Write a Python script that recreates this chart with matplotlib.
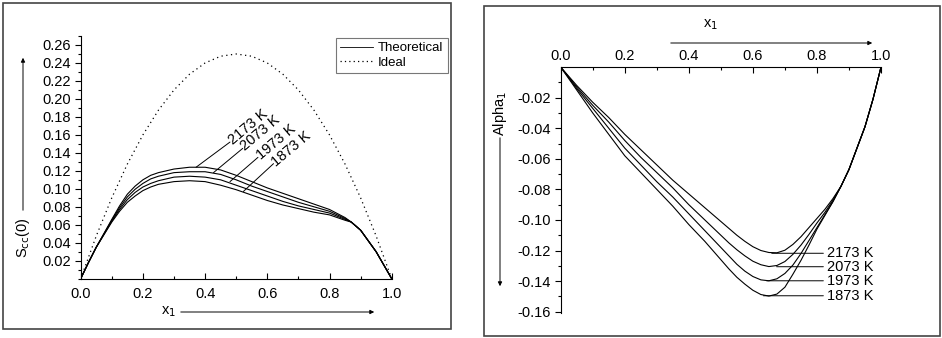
import matplotlib
matplotlib.use("Agg")
import matplotlib.pyplot as plt
from matplotlib.patches import Rectangle, FancyArrowPatch
from matplotlib.ticker import MultipleLocator, FixedLocator

plt.rcParams['font.family'] = ['Liberation Sans', 'DejaVu Sans']
plt.rcParams['axes.unicode_minus'] = False

# ---------------- data: left panel (Scc(0)) ----------------
x_left = [0.0, 0.025, 0.05, 0.1, 0.125, 0.15, 0.175, 0.2, 0.225, 0.25, 0.3, 0.35, 0.4, 0.45,
          0.5, 0.55, 0.6, 0.65, 0.7, 0.75, 0.8, 0.85, 0.87, 0.9, 0.95, 0.975, 1.0]
scc_2173 = [0.0, 0.018, 0.035, 0.066, 0.081, 0.094, 0.103, 0.110, 0.115, 0.118, 0.122, 0.124,
            0.124, 0.121, 0.115, 0.108, 0.101, 0.095, 0.089, 0.083, 0.077, 0.068, 0.063,
            0.054, 0.030, 0.015, 0.0]
scc_2073 = [0.0, 0.018, 0.035, 0.065, 0.079, 0.091, 0.0995, 0.106, 0.111, 0.114, 0.118, 0.119,
            0.119, 0.116, 0.110, 0.103, 0.097, 0.091, 0.085, 0.080, 0.075, 0.067, 0.063,
            0.054, 0.030, 0.015, 0.0]
scc_1973 = [0.0, 0.018, 0.035, 0.064, 0.077, 0.088, 0.096, 0.102, 0.106, 0.109, 0.113, 0.114,
            0.113, 0.110, 0.104, 0.098, 0.092, 0.086, 0.081, 0.077, 0.073, 0.066, 0.063,
            0.054, 0.030, 0.015, 0.0]
scc_1873 = [0.0, 0.018, 0.035, 0.063, 0.075, 0.085, 0.092, 0.098, 0.102, 0.105, 0.108, 0.109,
            0.108, 0.104, 0.099, 0.093, 0.087, 0.082, 0.078, 0.074, 0.071, 0.065, 0.063,
            0.054, 0.030, 0.015, 0.0]
x_ideal = [0.0, 0.05, 0.1, 0.15, 0.2, 0.25, 0.3, 0.35, 0.4, 0.45, 0.5, 0.55, 0.6, 0.65,
           0.7, 0.75, 0.8, 0.85, 0.9, 0.95, 1.0]
scc_ideal = [0.0, 0.0475, 0.09, 0.1275, 0.16, 0.1875, 0.21, 0.2275, 0.24, 0.2475, 0.25, 0.2475,
             0.24, 0.2275, 0.21, 0.1875, 0.16, 0.1275, 0.09, 0.0475, 0.0]

# ---------------- data: right panel (Alpha1) ----------------
x_right = [0.0, 0.05, 0.1, 0.15, 0.2, 0.25, 0.3, 0.35, 0.4, 0.45, 0.5, 0.525, 0.55, 0.575,
           0.6, 0.625, 0.65, 0.675, 0.7, 0.725, 0.75, 0.775, 0.8, 0.825, 0.85, 0.875,
           0.9, 0.925, 0.95, 0.975, 1.0]
alpha_2173 = [0.0, -0.012, -0.023, -0.033, -0.044, -0.054, -0.064, -0.074, -0.083, -0.092,
              -0.101, -0.1055, -0.110, -0.114, -0.1175, -0.120, -0.1213, -0.1215, -0.1198,
              -0.116, -0.111, -0.105, -0.099, -0.093, -0.086, -0.078, -0.067, -0.053,
              -0.039, -0.021, 0.0]
alpha_2073 = [0.0, -0.013, -0.025, -0.036, -0.048, -0.059, -0.069, -0.079, -0.090, -0.100,
              -0.110, -0.115, -0.1195, -0.1235, -0.127, -0.1293, -0.1305, -0.1298, -0.1272,
              -0.1225, -0.1165, -0.1095, -0.102, -0.095, -0.087, -0.078, -0.067, -0.053,
              -0.039, -0.021, 0.0]
alpha_1973 = [0.0, -0.014, -0.027, -0.040, -0.053, -0.064, -0.075, -0.085, -0.096, -0.107,
              -0.118, -0.1235, -0.129, -0.1335, -0.137, -0.1392, -0.1398, -0.1385, -0.135,
              -0.1295, -0.122, -0.1135, -0.105, -0.0965, -0.088, -0.078, -0.067, -0.053,
              -0.039, -0.021, 0.0]
alpha_1873 = [0.0, -0.015, -0.030, -0.044, -0.058, -0.069, -0.080, -0.091, -0.103, -0.114,
              -0.126, -0.132, -0.1375, -0.142, -0.146, -0.1488, -0.1498, -0.1485, -0.1440,
              -0.1355, -0.1265, -0.1165, -0.106, -0.097, -0.088, -0.078, -0.067, -0.053,
              -0.039, -0.021, 0.0]

temps = ['2173 K', '2073 K', '1973 K', '1873 K']
left_series = [scc_2173, scc_2073, scc_1973, scc_1873]
right_series = [alpha_2173, alpha_2073, alpha_1973, alpha_1873]

# annotation geometry (label placement)
left_ptr = [(0.371, 0.124), (0.427, 0.118), (0.48, 0.108), (0.523, 0.097)]
left_txt = [(0.48, 0.152), (0.521, 0.145), (0.57, 0.135), (0.62, 0.128)]
right_ptr = [(0.659, -0.1218), (0.674, -0.1306), (0.643, -0.1398), (0.633, -0.1496)]
right_end = 0.82
right_txt_x = 0.83

W, H = 942, 338
fig = plt.figure(figsize=(W / 100, H / 100), dpi=100)

def fx(px):
    return px / W

def fy(py):
    return 1 - py / H

def arrow(p0, p1):
    fig.patches.append(FancyArrowPatch((fx(p0[0]), fy(p0[1])), (fx(p1[0]), fy(p1[1])),
                       transform=fig.transFigure, arrowstyle='-|>', mutation_scale=6,
                       lw=0.7, color='black'))

# panel frames
for (x0, y0, x1, y1) in [(3, 3, 451, 329), (484, 6, 940, 336)]:
    fig.patches.append(Rectangle((fx(x0), fy(y1)), fx(x1 - x0), (y1 - y0) / H,
                                 transform=fig.transFigure, fill=False,
                                 edgecolor='#444444', lw=1.2))

FS = 10.5
LW = 0.8

# ---------------- left axes ----------------
axL = fig.add_axes([fx(80.7), fy(278.7), fx(391.7 - 80.7), (278.7 - 36) / H])
for s in left_series:
    axL.plot(x_left, s, color='black', lw=LW)
axL.plot(x_ideal, scc_ideal, color='black', lw=0.9, linestyle=(0, (1, 2.8)))
axL.set_xlim(0, 1.0)
axL.set_ylim(0, 0.27)
axL.spines['top'].set_visible(False)
axL.spines['right'].set_visible(False)
axL.xaxis.set_major_locator(MultipleLocator(0.2))
axL.xaxis.set_minor_locator(MultipleLocator(0.1))
axL.yaxis.set_major_locator(FixedLocator([0.02 * i for i in range(1, 14)]))
axL.yaxis.set_minor_locator(MultipleLocator(0.01))
axL.xaxis.set_major_formatter(plt.FuncFormatter(lambda v, p: f"{v:.1f}"))
axL.yaxis.set_major_formatter(plt.FuncFormatter(lambda v, p: f"{v:.2f}"))
axL.tick_params(axis='x', which='major', direction='in', length=4, width=0.8, labelsize=FS, pad=6)
axL.tick_params(axis='x', which='minor', direction='in', length=2, width=0.8)
axL.tick_params(axis='y', which='major', direction='out', length=4, width=0.8, labelsize=FS, pad=3)
axL.tick_params(axis='y', which='minor', direction='out', length=2, width=0.8)

for (p, q, t) in zip(left_ptr, left_txt, temps):
    axL.annotate('', xy=p, xytext=q, arrowprops=dict(arrowstyle='-', lw=0.7, color='black',
                                                   shrinkA=0, shrinkB=0))
    axL.text(q[0], q[1], t, rotation=40, rotation_mode='anchor', ha='left', va='center',
             fontsize=FS)

leg_handles = [plt.Line2D([], [], color='black', lw=0.6),
               plt.Line2D([], [], color='black', lw=0.9, linestyle=(0, (1, 2.5)))]
leg = fig.legend(leg_handles, ['Theoretical', 'Ideal'], loc='upper left',
                 bbox_to_anchor=(fx(336), fy(38)), fontsize=9.5, frameon=True, fancybox=False,
                 handlelength=2.5, borderpad=0.3, labelspacing=0.2, handletextpad=0.4,
                 borderaxespad=0)
leg.get_frame().set_edgecolor('#555555')
leg.get_frame().set_linewidth(0.8)

fig.text(fx(23), fy(238), r'S$_{\mathrm{cc}}$(0)', rotation=90, ha='center', va='center', fontsize=FS)
arrow((23, 213), (23, 55))
fig.text(fx(168), fy(312), r'x$_1$', ha='center', va='center', fontsize=FS)
arrow((178, 312), (377, 312))

# ---------------- right axes ----------------
ybot = -0.161
py_bot = 67.1 + 0.161 * 1528.5
axR = fig.add_axes([fx(560.7), fy(py_bot), fx(881 - 560.7), (py_bot - 67.1) / H])
for s in right_series:
    axR.plot(x_right, s, color='black', lw=LW)
axR.set_xlim(0, 1.0)
axR.set_ylim(ybot, 0)
axR.spines['bottom'].set_visible(False)
axR.spines['right'].set_visible(False)
axR.xaxis.tick_top()
axR.xaxis.set_major_locator(MultipleLocator(0.2))
axR.xaxis.set_minor_locator(MultipleLocator(0.1))
axR.yaxis.set_major_locator(FixedLocator([-0.02 * i for i in range(1, 9)]))
axR.yaxis.set_minor_locator(FixedLocator([-0.01 - 0.02 * i for i in range(0, 8)]))
axR.xaxis.set_major_formatter(plt.FuncFormatter(lambda v, p: f"{v:.1f}"))
axR.yaxis.set_major_formatter(plt.FuncFormatter(lambda v, p: f"{v:.2f}"))
axR.tick_params(axis='x', which='major', direction='in', length=4, width=0.8, labelsize=FS, pad=3,
                top=True, bottom=False)
axR.tick_params(axis='x', which='minor', direction='in', length=2, width=0.8, top=True, bottom=False)
axR.tick_params(axis='y', which='major', direction='out', length=4, width=0.8, labelsize=FS, pad=3)
axR.tick_params(axis='y', which='minor', direction='out', length=2, width=0.8)

for (p, t) in zip(right_ptr, temps):
    axR.annotate('', xy=p, xytext=(right_end, p[1]),
                 arrowprops=dict(arrowstyle='-', lw=0.7, color='black', shrinkA=0, shrinkB=0))
    axR.text(right_txt_x, p[1], t, ha='left', va='center', fontsize=FS)

fig.text(fx(500), fy(113), r'Alpha$_1$', rotation=90, ha='center', va='center', fontsize=FS)
arrow((500, 135), (500, 289))
fig.text(fx(710), fy(25), r'x$_1$', ha='center', va='center', fontsize=FS)
arrow((668, 43), (875, 43))

fig.savefig('out.png', dpi=100)
